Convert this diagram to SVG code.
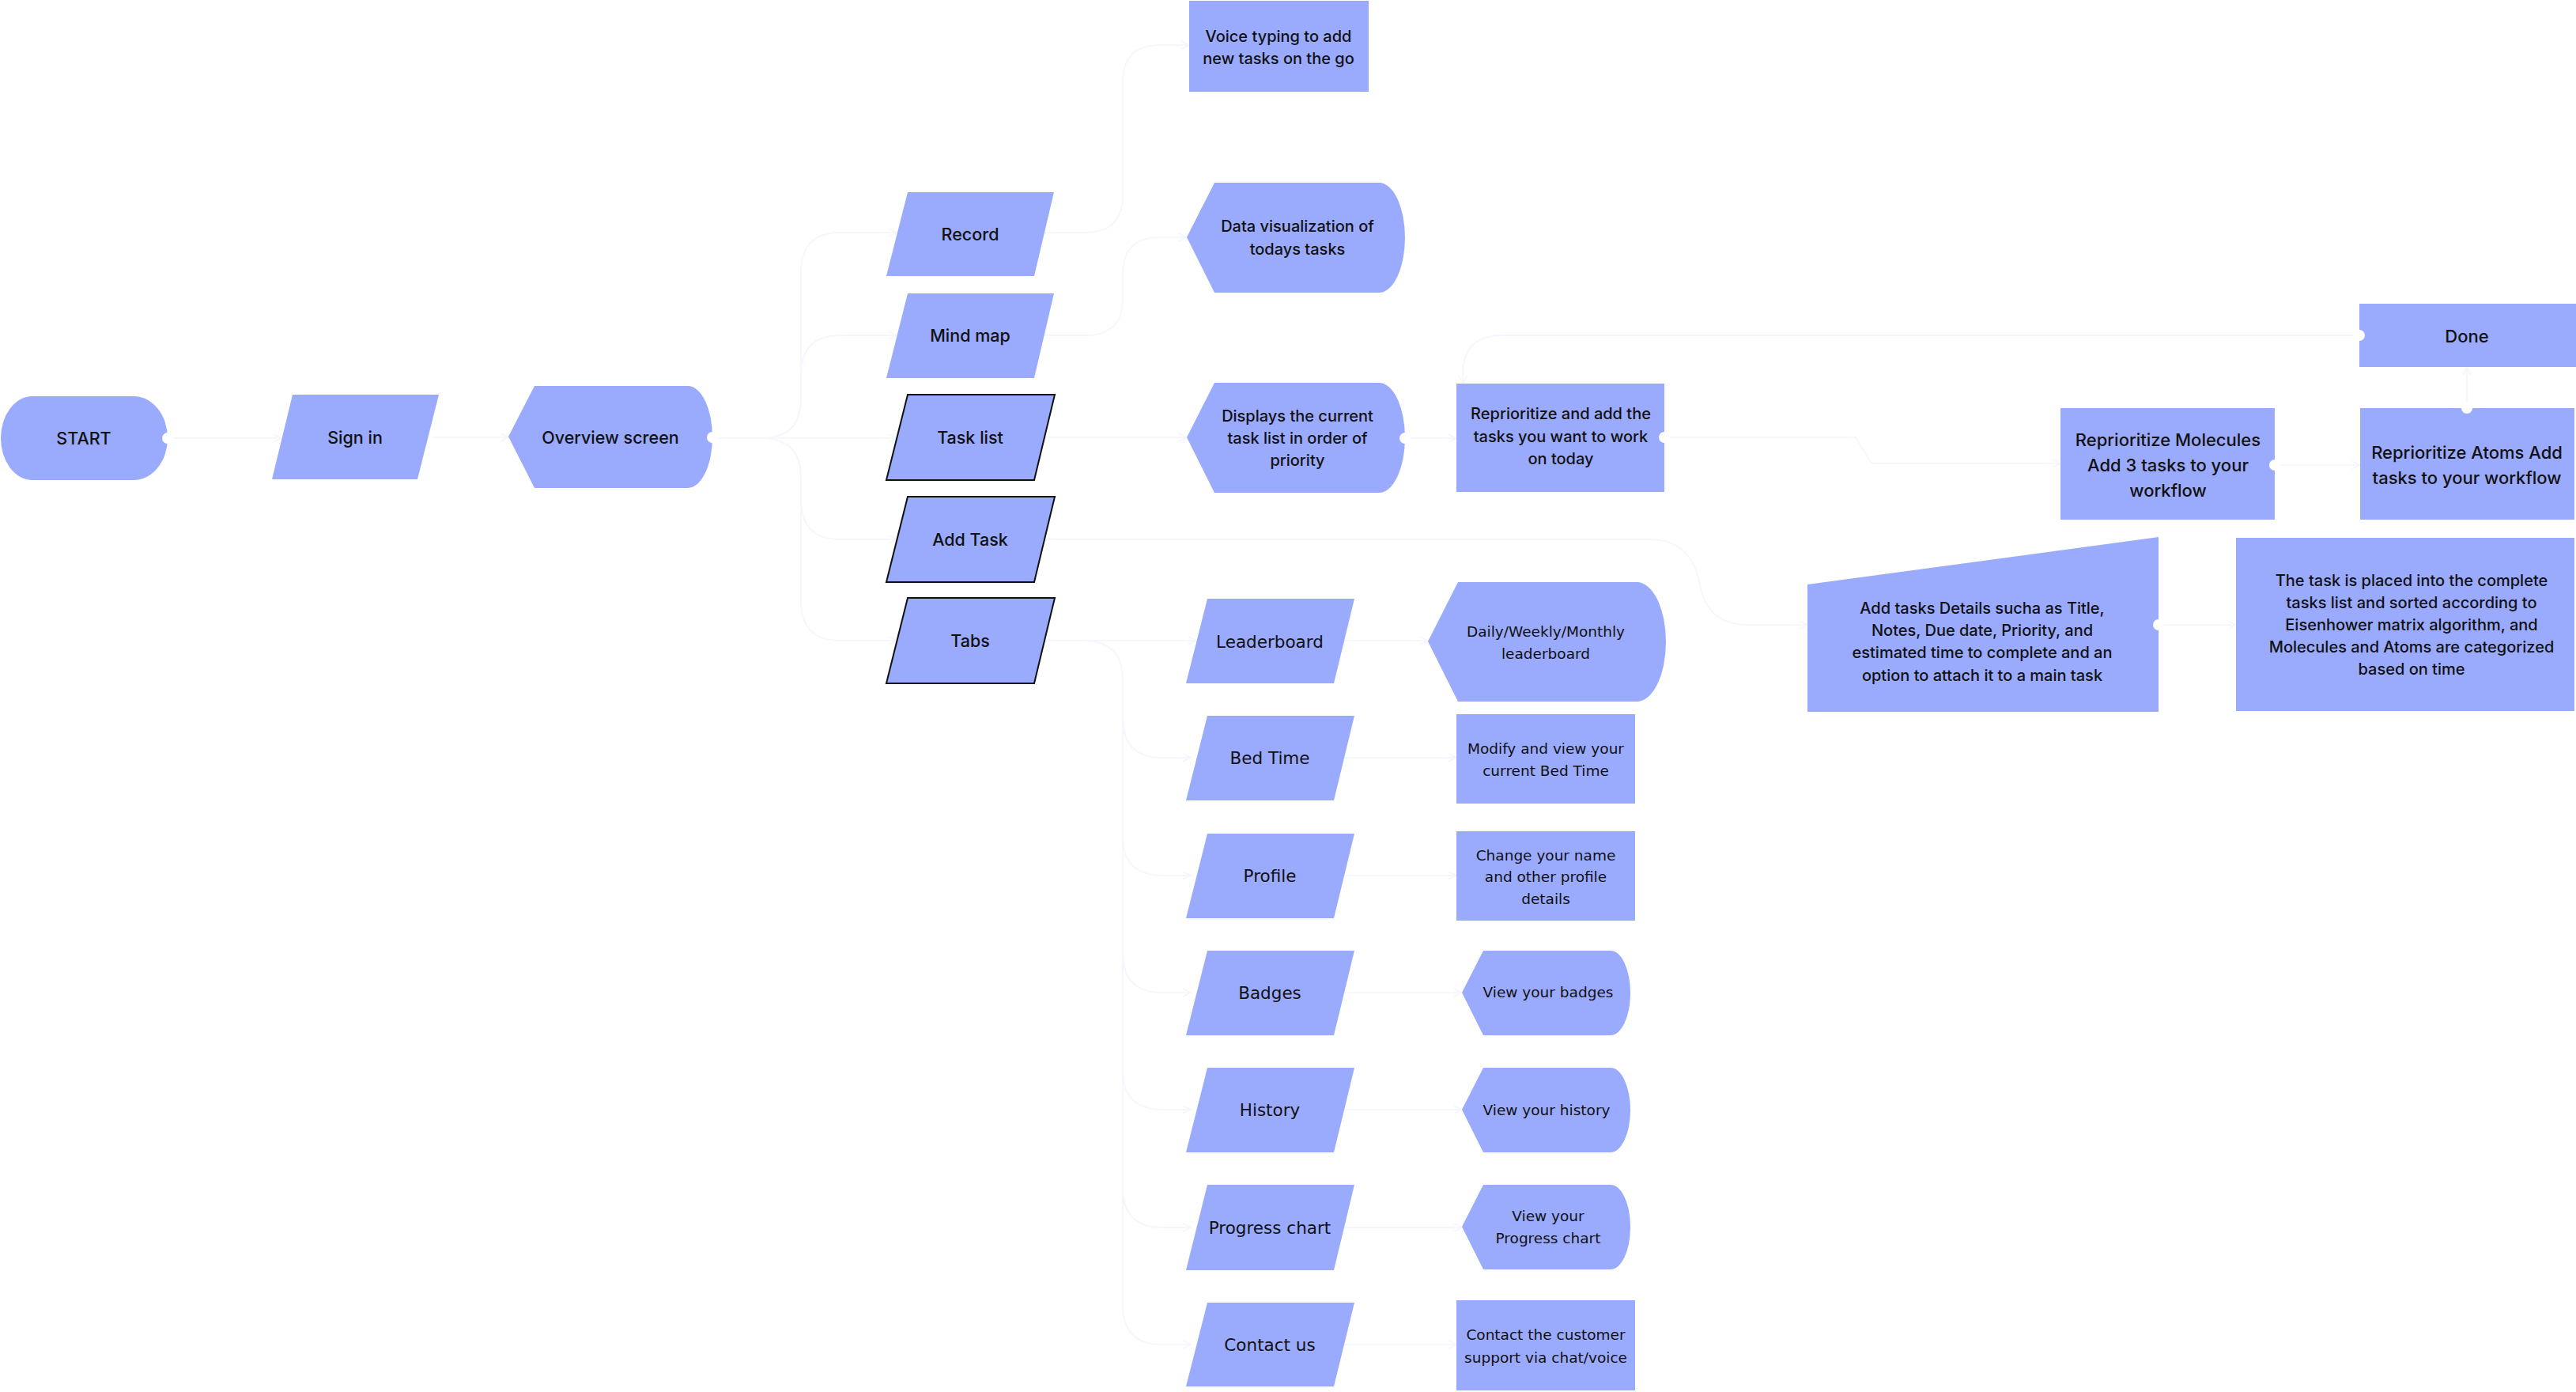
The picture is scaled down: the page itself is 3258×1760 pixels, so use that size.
<svg xmlns="http://www.w3.org/2000/svg" width="3258" height="1760" viewBox="0 0 3258 1760">
<defs>
<marker id="arr" viewBox="0 0 12 12" refX="11" refY="6" markerWidth="12" markerHeight="12" markerUnits="userSpaceOnUse" orient="auto">
<path d="M1,1 L11,6 L1,11" fill="none" stroke="#f4f5fe" stroke-width="1.5"/>
</marker>
</defs>
<style>
.n{fill:#9aaafd;}
.s{stroke:#111;stroke-width:2;}
.t{font-family:Inter,"Noto Sans",sans-serif;font-weight:500;fill:#111;text-anchor:middle;dominant-baseline:central;}
.lg{font-size:21.5px;}
.md{font-size:22px;}
.sm{font-size:20px;}
.w{font-family:"DejaVu Sans",Verdana,sans-serif;fill:#111;text-anchor:middle;dominant-baseline:central;}
.wl{font-size:21.5px;}
.ws{font-size:18.5px;}
.c{fill:none;stroke:#f6f7fe;stroke-width:2;}
.dot{fill:#fff;}
</style>
<rect width="3258" height="1760" fill="#fff"/>

<g id="connectors">
<path class="c" marker-end="url(#arr)" d="M212,554 H356"/>
<path class="c" marker-end="url(#arr)" d="M548,553 H643"/>
<path class="c" d="M901,554 H963"/>
<path class="c" marker-end="url(#arr)" d="M963,554 Q1013,554 1013,504 V344 Q1013,294 1063,294 H1134"/>
<path class="c" marker-end="url(#arr)" d="M963,554 Q1013,554 1013,504 V474 Q1013,424 1063,424 H1134"/>
<path class="c" marker-end="url(#arr)" d="M963,554 H1134"/>
<path class="c" marker-end="url(#arr)" d="M963,554 Q1013,554 1013,604 V632 Q1013,682 1063,682 H1134"/>
<path class="c" marker-end="url(#arr)" d="M963,554 Q1013,554 1013,604 V760 Q1013,810 1063,810 H1134"/>
<path class="c" marker-end="url(#arr)" d="M1320,294 H1373 Q1420,294 1420,247 V104 Q1420,57 1467,57 H1504"/>
<path class="c" marker-end="url(#arr)" d="M1320,424 H1373 Q1420,424 1420,377 V347 Q1420,300 1467,300 H1501"/>
<path class="c" marker-end="url(#arr)" d="M1321,553 H1501"/>
<path class="c" marker-end="url(#arr)" d="M1320,682 H2086 Q2140,682 2150,740 Q2160,790 2210,790 H2286"/>
<path class="c" marker-end="url(#arr)" d="M1320,810 H1513"/>
<path class="c" marker-end="url(#arr)" d="M1320,810 H1370 Q1420,810 1420,860 V908 Q1420,958 1470,958 H1506"/>
<path class="c" marker-end="url(#arr)" d="M1420,860 V1057 Q1420,1107 1470,1107 H1506"/>
<path class="c" marker-end="url(#arr)" d="M1420,860 V1205 Q1420,1255 1470,1255 H1506"/>
<path class="c" marker-end="url(#arr)" d="M1420,860 V1353 Q1420,1403 1470,1403 H1506"/>
<path class="c" marker-end="url(#arr)" d="M1420,860 V1502 Q1420,1552 1470,1552 H1506"/>
<path class="c" marker-end="url(#arr)" d="M1420,860 V1650 Q1420,1700 1470,1700 H1506"/>
<path class="c" marker-end="url(#arr)" d="M1700,810 H1806"/>
<path class="c" marker-end="url(#arr)" d="M1700,958 H1842"/>
<path class="c" marker-end="url(#arr)" d="M1700,1107 H1842"/>
<path class="c" marker-end="url(#arr)" d="M1700,1255 H1849"/>
<path class="c" marker-end="url(#arr)" d="M1700,1403 H1849"/>
<path class="c" marker-end="url(#arr)" d="M1700,1552 H1849"/>
<path class="c" marker-end="url(#arr)" d="M1700,1700 H1842"/>
<path class="c" marker-end="url(#arr)" d="M1777,554 H1842"/>
<path class="c" marker-end="url(#arr)" d="M2105,553 H2347 L2367,586 H2606"/>
<path class="c" marker-end="url(#arr)" d="M2877,588 H2985"/>
<path class="c" marker-end="url(#arr)" d="M3120,516 V464"/>
<path class="c" marker-end="url(#arr)" d="M2984,424 H1900 Q1850,424 1850,474 V485"/>
<path class="c" marker-end="url(#arr)" d="M2730,790 H2828"/>
</g>

<g id="start"><path class="n" d="M41,501 H169 A43,53 0 0 1 169,607 H41 A40,53 0 0 1 41,501 Z"/><text class="t lg" x="106" y="554">START</text></g>
<g id="signin"><polygon class="n" points="370,499 555,499 528,606 344,606"/><text class="t lg" x="449" y="553">Sign in</text></g>
<g id="overview"><path class="n" d="M676,488 H870 A31,64.5 0 0 1 870,617 H676 L643,552 Z"/><text class="t lg" x="772" y="553">Overview screen</text></g>

<g id="record"><polygon class="n" points="1148,243 1333,243 1308,349 1121,349"/><text class="t lg" x="1227" y="296">Record</text></g>
<g id="mindmap"><polygon class="n" points="1148,371 1333,371 1308,478 1121,478"/><text class="t lg" x="1227" y="424">Mind map</text></g>
<g id="tasklist"><polygon class="n s" points="1148,499 1334,499 1308,607 1121,607"/><text class="t lg" x="1227" y="553">Task list</text></g>
<g id="addtask"><polygon class="n s" points="1148,628 1334,628 1308,736 1121,736"/><text class="t lg" x="1227" y="682">Add Task</text></g>
<g id="tabs"><polygon class="n s" points="1148,756 1334,756 1308,864 1121,864"/><text class="t lg" x="1227" y="810">Tabs</text></g>

<g id="voice"><rect class="n" x="1504" y="1" width="227" height="115"/><text class="t sm" x="1617" y="46">Voice typing to add</text><text class="t sm" x="1617" y="74">new tasks on the go</text></g>
<g id="dataviz"><path class="n" d="M1536,231 H1744 A33,69.5 0 0 1 1744,370 H1536 L1501,300 Z"/><text class="t sm" x="1641" y="286">Data visualization of</text><text class="t sm" x="1641" y="315">todays tasks</text></g>
<g id="displays"><path class="n" d="M1536,484 H1744 A33,69.5 0 0 1 1744,623 H1536 L1501,553 Z"/><text class="t sm" x="1641" y="526">Displays the current</text><text class="t sm" x="1641" y="554">task list in order of</text><text class="t sm" x="1641" y="582">priority</text></g>
<g id="reprioritize"><rect class="n" x="1842" y="485" width="263" height="137"/><text class="t sm" x="1974" y="523">Reprioritize and add the</text><text class="t sm" x="1974" y="552">tasks you want to work</text><text class="t sm" x="1974" y="580">on today</text></g>

<g id="leaderboard"><polygon class="n" points="1527,757 1713,757 1687,864 1500,864"/><text class="w wl" x="1606" y="811">Leaderboard</text></g>
<g id="bedtime"><polygon class="n" points="1527,905 1713,905 1687,1012 1500,1012"/><text class="w wl" x="1606" y="958">Bed Time</text></g>
<g id="profile"><polygon class="n" points="1527,1054 1713,1054 1687,1161 1500,1161"/><text class="w wl" x="1606" y="1107">Profile</text></g>
<g id="badges"><polygon class="n" points="1527,1202 1713,1202 1687,1309 1500,1309"/><text class="w wl" x="1606" y="1255">Badges</text></g>
<g id="history"><polygon class="n" points="1527,1350 1713,1350 1687,1457 1500,1457"/><text class="w wl" x="1606" y="1403">History</text></g>
<g id="progress"><polygon class="n" points="1527,1498 1713,1498 1687,1606 1500,1606"/><text class="w wl" x="1606" y="1552">Progress chart</text></g>
<g id="contact"><polygon class="n" points="1527,1647 1713,1647 1687,1753 1500,1753"/><text class="w wl" x="1606" y="1700">Contact us</text></g>

<g id="dailylb"><path class="n" d="M1844,736 H2070 A37,75.5 0 0 1 2070,887 H1844 L1806,811 Z"/><text class="w ws" x="1955" y="798">Daily/Weekly/Monthly</text><text class="w ws" x="1955" y="826">leaderboard</text></g>
<g id="modifybed"><rect class="n" x="1842" y="903" width="226" height="113"/><text class="w ws" x="1955" y="946">Modify and view your</text><text class="w ws" x="1955" y="974">current Bed Time</text></g>
<g id="changename"><rect class="n" x="1842" y="1051" width="226" height="113"/><text class="w ws" x="1955" y="1081">Change your name</text><text class="w ws" x="1955" y="1108">and other profile</text><text class="w ws" x="1955" y="1136">details</text></g>
<g id="viewbadges"><path class="n" d="M1876,1202 H2037 A25,53.5 0 0 1 2037,1309 H1876 L1849,1255 Z"/><text class="w ws" x="1958" y="1254">View your badges</text></g>
<g id="viewhistory"><path class="n" d="M1876,1350 H2037 A25,53.5 0 0 1 2037,1457 H1876 L1849,1403 Z"/><text class="w ws" x="1956" y="1403">View your history</text></g>
<g id="viewprogress"><path class="n" d="M1876,1498 H2037 A25,53.5 0 0 1 2037,1605 H1876 L1849,1551 Z"/><text class="w ws" x="1958" y="1537">View your</text><text class="w ws" x="1958" y="1565">Progress chart</text></g>
<g id="contactsupport"><rect class="n" x="1842" y="1644" width="226" height="114"/><text class="w ws" x="1955" y="1687">Contact the customer</text><text class="w ws" x="1955" y="1716">support via chat/voice</text></g>

<g id="done"><rect class="n" x="2984" y="384" width="274" height="80"/><text class="t md" x="3120" y="425">Done</text></g>
<g id="molecules"><rect class="n" x="2606" y="516" width="271" height="141"/><text class="t md" x="2742" y="556">Reprioritize Molecules</text><text class="t md" x="2742" y="588">Add 3 tasks to your</text><text class="t md" x="2742" y="620">workflow</text></g>
<g id="atoms"><rect class="n" x="2985" y="516" width="271" height="141"/><text class="t md" x="3120" y="572">Reprioritize Atoms Add</text><text class="t md" x="3120" y="604">tasks to your workflow</text></g>
<g id="adddetails"><polygon class="n" points="2286,739 2730,679 2730,900 2286,900"/><text class="t sm" x="2507" y="769">Add tasks Details sucha as Title,</text><text class="t sm" x="2507" y="797">Notes, Due date, Priority, and</text><text class="t sm" x="2507" y="825">estimated time to complete and an</text><text class="t sm" x="2507" y="854">option to attach it to a main task</text></g>
<g id="taskplaced"><rect class="n" x="2828" y="680" width="428" height="219"/><text class="t sm" x="3050" y="734">The task is placed into the complete</text><text class="t sm" x="3050" y="762">tasks list and sorted according to</text><text class="t sm" x="3050" y="790">Eisenhower matrix algorithm, and</text><text class="t sm" x="3050" y="818">Molecules and Atoms are categorized</text><text class="t sm" x="3050" y="846">based on time</text></g>

<g id="dots">
<circle class="dot" cx="212" cy="554" r="7"/>
<circle class="dot" cx="901" cy="553" r="7"/>
<circle class="dot" cx="1777" cy="554" r="7"/>
<circle class="dot" cx="2105" cy="553" r="7"/>
<circle class="dot" cx="2877" cy="588" r="7"/>
<circle class="dot" cx="3120" cy="516" r="7"/>
<circle class="dot" cx="2984" cy="424" r="7"/>
<circle class="dot" cx="2730" cy="790" r="7"/>
</g>
</svg>
